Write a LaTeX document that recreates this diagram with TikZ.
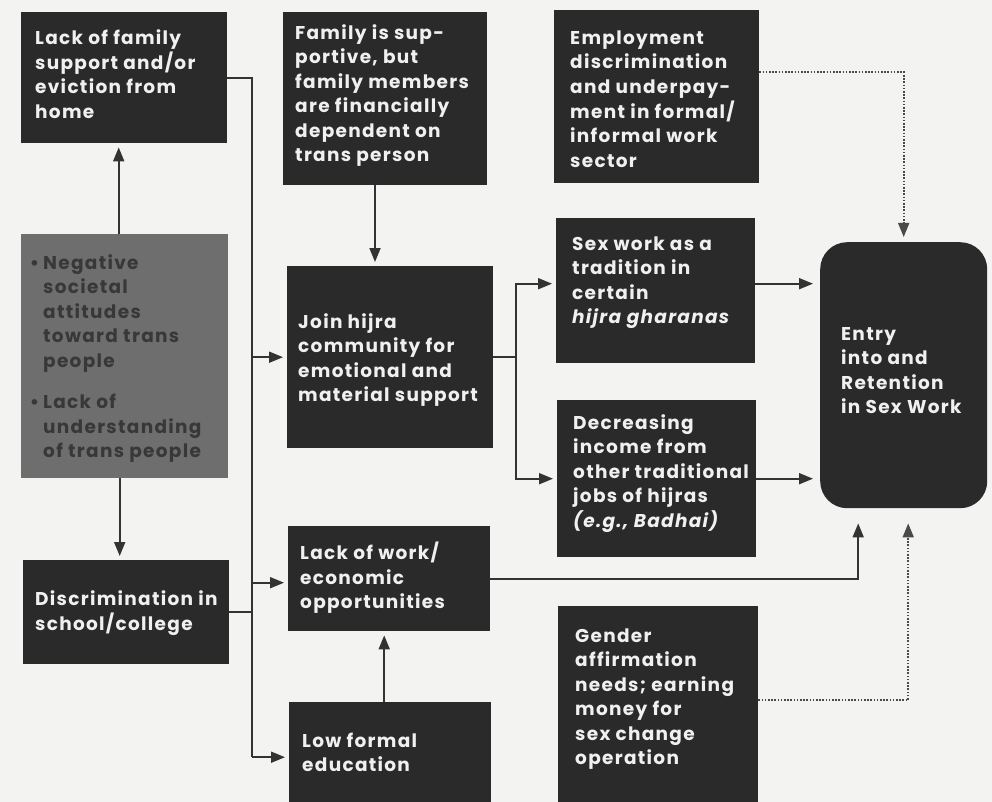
\documentclass[tikz,border=0pt]{standalone}
\usepackage{fontspec}
\setmainfont{Poppins}[LetterSpace=7]
\usetikzlibrary{arrows.meta}
\definecolor{bg}{HTML}{F3F3F1}
\definecolor{boxc}{HTML}{2A2A2A}
\definecolor{grayc}{HTML}{6E6E6E}
\definecolor{txtc}{HTML}{F0F0F0}
\definecolor{gtxt}{HTML}{383838}
\definecolor{linec}{HTML}{333333}
\definecolor{dotc}{HTML}{4A4A4A}
\newcommand\bxt[5]{\parbox[t][#2pt][t]{#1pt}{\vspace*{#3pt}\hspace*{#4pt}\begin{tabular}[t]{@{}l@{}}#5\end{tabular}}}
\begin{document}
\begin{tikzpicture}[x=1pt,y=-1pt,
  box/.style={rectangle, fill=boxc, text=txtc, inner sep=0pt, anchor=north west,
    font=\fontsize{18.5pt}{24.5pt}\selectfont\bfseries},
  graybox/.style={box, fill=grayc, text=gtxt},
  conn/.style={draw=linec, line width=1.8pt},
  arr/.style={conn, -{Triangle[length=14pt,width=11pt]}, shorten >=4pt},
  dots/.style={draw=dotc, line width=1.7pt, dash pattern=on 1.6pt off 1.6pt,
    -{Triangle[length=14pt,width=11pt]}}]
\fill[bg] (0,0) rectangle (992,802);
\useasboundingbox (0,0) rectangle (992,802);

\node[box] (b1) at (21,12) {\bxt{206}{131}{15}{14}{Lack of family\\ support and/or\\ eviction from\\ home}};
\node[box] (b2) at (283,12) {\bxt{204}{173}{10}{12}{Family is sup-\\ portive, but\\ family members\\ are financially\\ dependent on\\ trans person}};
\node[box] (b3) at (554,10) {\bxt{205}{173}{17}{16}{Employment\\ discrimination\\ and underpay-\\ ment in formal/\\ informal work\\ sector}};
\node[graybox] (b4) at (21,234) {\bxt{207}{244}{18}{22}{\llap{\textbullet\hspace{4pt}}Negative\\ societal\\ attitudes\\ toward trans\\ people\\[17pt] \llap{\textbullet\hspace{4pt}}Lack of\\ understanding\\ of trans people}};
\node[box] (b5) at (287,266) {\bxt{206}{182}{45}{11}{Join hijra\\ community for\\ emotional and\\ material support}};
\node[box] (b6) at (556,218) {\bxt{199}{145}{15}{16}{Sex work as a\\ tradition in\\ certain\\ \textit{hijra gharanas}}};
\node[box] (b7) at (557,400) {\bxt{199}{157}{12}{16}{Decreasing\\ income from\\ other traditional\\ jobs of hijras\\ \textit{(e.g., Badhai)}}};
\node[box, rounded corners=27pt] (entry) at (820,242) {\bxt{167}{266}{81}{21}{Entry\\ into and\\ Retention\\ in Sex Work}};
\node[box] (b9) at (23,560) {\bxt{206}{104}{28}{12}{Discrimination in\\ school/college}};
\node[box] (b10) at (288,526) {\bxt{202}{105}{16}{12}{Lack of work/\\ economic\\ opportunities}};
\node[box] (b11) at (289,702) {\bxt{202}{100}{28}{13}{Low formal\\ education}};
\node[box] (b12) at (558,606) {\bxt{200}{196}{19}{17}{Gender\\ affirmation\\ needs; earning\\ money for\\ sex change\\ operation}};

\coordinate (vx) at (252,0);
\coordinate (bx) at (516,0);
\coordinate (b11in) at ([yshift=-5pt]b11.west);
\coordinate (b10in) at ([yshift=-4pt]b10.west);
\coordinate (b6in) at ([yshift=7pt]b6.west);

\draw[arr] ([xshift=-6pt]b4.north) -- ([xshift=-6pt]b4.north |- b1.south);
\draw[arr] ([xshift=-5pt]b4.south) -- ([xshift=-5pt]b4.south |- b9.north);

\draw[conn] (b1.east) -| (vx |- b11in);
\draw[arr] (vx |- b11in) -- (b11in);
\draw[arr] (vx |- b5.west) -- (b5.west);
\draw[arr] (vx |- b10in) -- (b10in);
\draw[conn] (b9.east) -- (vx |- b9.east);

\draw[arr] (b2.south -| 375,0) -- (b5.north -| 375,0);
\draw[conn] (b5.east) -- (bx |- b5.east);
\draw[arr] (bx |- b5.east) |- (b6in);
\draw[arr] (bx |- b5.east) |- (b7.west);
\draw[arr, shorten >=7pt] ([yshift=7pt]b6.east) -- (entry.west |- b6in);
\draw[arr, shorten >=7pt] (b7.east) -- (entry.west |- b7.east);
\draw[dots, shorten >=5pt] ([yshift=24.5pt]b3.east) -| (entry.north);
\draw[arr, shorten >=15pt] (b10.east) -| ([xshift=-45.5pt]entry.south);
\draw[dots, shorten >=15pt] ([yshift=4pt]b12.east) -| ([xshift=4.5pt]entry.south);
\draw[arr] ([xshift=-6pt]b11.north) -- ([xshift=-6pt]b11.north |- b10.south);
\end{tikzpicture}
\end{document}
